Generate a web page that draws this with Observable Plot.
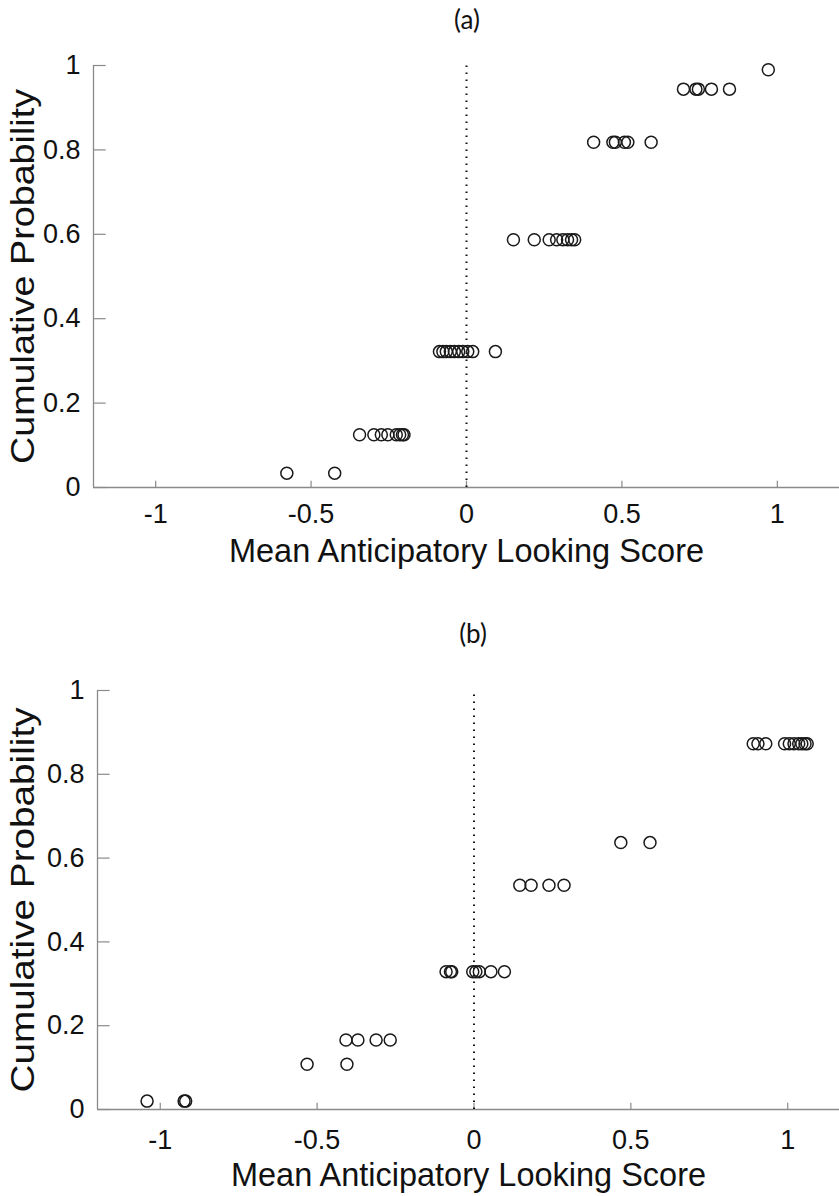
<!DOCTYPE html>
<html>
<head>
<meta charset="utf-8">
<script src="https://cdn.jsdelivr.net/npm/d3@7"></script>
<script src="https://cdn.jsdelivr.net/npm/@observablehq/plot@0.6"></script>
<style>
  html, body { margin: 0; padding: 0; background: #fff; overflow: hidden; }
  #wrap { position: relative; width: 839px; height: 1196px; }
  .ttl { position: absolute; font-family: Lato, "Open Sans", sans-serif; font-size: 26px; color: #111; transform: translate(-50%, -50%); white-space: nowrap; }
  .pan { position: absolute; left: 0; }
</style>
</head>
<body>
<div id="wrap">
  <div class="ttl" style="left:467px; top:19px;">(a)</div>
  <div class="pan" id="pa" style="top:40px;"></div>
  <div class="ttl" style="left:473px; top:633px;">(b)</div>
  <div class="pan" id="pb" style="top:660px;"></div>
</div>
<script>
// ---- Panel (a) data ----
const aScore = [
  -0.578, -0.424,
  -0.344, -0.298, -0.274, -0.253, -0.226, -0.215, -0.206, -0.201,
  -0.087, -0.076, -0.065, -0.052, -0.039, -0.025, -0.012, 0.004, 0.020, 0.093,
  0.151, 0.218, 0.266, 0.290, 0.310, 0.325, 0.338, 0.348,
  0.409, 0.471, 0.479, 0.508, 0.519, 0.594,
  0.698, 0.738, 0.746, 0.788, 0.846,
  0.971
];
const aProb = [
  0.034, 0.034,
  0.125, 0.125, 0.125, 0.125, 0.125, 0.125, 0.125, 0.125,
  0.322, 0.322, 0.322, 0.322, 0.322, 0.322, 0.322, 0.322, 0.322, 0.322,
  0.587, 0.587, 0.587, 0.587, 0.587, 0.587, 0.587, 0.587,
  0.818, 0.818, 0.818, 0.818, 0.818, 0.818,
  0.944, 0.944, 0.944, 0.944, 0.944,
  0.990
];
// ---- Panel (b) data ----
const bScore = [
  -1.042, -0.924, -0.919,
  -0.532, -0.405,
  -0.408, -0.370, -0.312, -0.267,
  -0.089, -0.075, -0.071, -0.004, 0.006, 0.017, 0.054, 0.097,
  0.146, 0.182, 0.239, 0.287,
  0.468, 0.561,
  0.890, 0.905, 0.930, 0.990, 1.005, 1.020, 1.035, 1.045, 1.055, 1.062
];
const bProb = [
  0.020, 0.020, 0.020,
  0.108, 0.108,
  0.166, 0.166, 0.166, 0.166,
  0.329, 0.329, 0.329, 0.329, 0.329, 0.329, 0.329, 0.329,
  0.535, 0.535, 0.535, 0.535,
  0.637, 0.637,
  0.873, 0.873, 0.873, 0.873, 0.873, 0.873, 0.873, 0.873, 0.873, 0.873
];
const xTicks = [-1, -0.5, 0, 0.5, 1];
const yTicks = [0, 0.2, 0.4, 0.6, 0.8, 1];
const xLabel = "Mean Anticipatory Looking Score";
const yLabel = "Cumulative Probability";

const FONT = '"Liberation Sans", Arial, Helvetica, sans-serif';
const AXIS = "#8a8a8a";

function panel(scores, probs, opts) {
  const data = scores.map((s, i) => ({score: s, prob: probs[i]}));
  const [x0, x1] = opts.xDomain;
  const tx = (x1 - x0) * 0.0085;
  const svg = Plot.plot({
    width: 839,
    height: opts.height,
    marginLeft: opts.marginLeft,
    marginRight: 0,
    marginTop: opts.marginTop,
    marginBottom: opts.marginBottom,
    style: {fontFamily: FONT, background: "white", overflow: "visible"},
    x: {domain: opts.xDomain, ticks: xTicks},
    y: {domain: [0, 1], ticks: yTicks},
    marks: [
      Plot.axisX(xTicks, {tickSize: 0, tickPadding: opts.xPad, fontSize: 27, fill: "#111", label: null,
        tickFormat: d => String(d)}),
      Plot.axisY(yTicks, {tickSize: 0, tickPadding: 13, fontSize: 27, fill: "#111", label: null,
        tickFormat: d => String(d)}),
      // axis lines
      Plot.ruleY([0], {stroke: AXIS, strokeWidth: 1.3}),
      Plot.ruleX([x0], {y1: 0, y2: 1, stroke: AXIS, strokeWidth: 1.3}),
      // inward ticks
      Plot.ruleX(xTicks, {x: d => d, y1: 0, y2: 0.015, stroke: AXIS, strokeWidth: 1.2}),
      Plot.ruleY(yTicks, {y: d => d, x1: x0, x2: x0 + tx * 2, stroke: AXIS, strokeWidth: 1.2}),
      // dotted zero line
      Plot.ruleX([0], {y1: 0, y2: 1, stroke: "#111", strokeWidth: 2, strokeDasharray: "1.6,5.4"}),
      // data points
      Plot.dot(data, {x: "score", y: "prob", r: 6, stroke: "#1a1a1a", strokeWidth: 1.5, fill: "none"}),
      // axis labels
      Plot.text([xLabel], {frameAnchor: "bottom", dy: opts.xLabelDy, fontSize: 32.5, fill: "#111", lineAnchor: "middle", textAnchor: "middle"}),
      Plot.text([yLabel], {frameAnchor: "left", dx: -(opts.marginLeft - 23), rotate: -90, fontSize: 33, fill: "#111", lineAnchor: "middle", textAnchor: "middle"})
    ]
  });
  // stretch y label along its baseline to match the reference's length
  d3.select(svg).selectAll("text").filter(function() { return this.textContent === yLabel; })
    .attr("textLength", opts.yLabelLen).attr("lengthAdjust", "spacingAndGlyphs");
  return svg;
}

document.getElementById("pa").appendChild(panel(aScore, aProb, {
  xDomain: [-1.2, 1.2], height: 540, marginLeft: 93, marginTop: 25, marginBottom: 93,
  xPad: 16, xLabelDy: 64, yLabelLen: 375
}));
document.getElementById("pb").appendChild(panel(bScore, bProb, {
  xDomain: [-1.2, 1.165], height: 536, marginLeft: 97, marginTop: 30, marginBottom: 87,
  xPad: 20, xLabelDy: 66, yLabelLen: 385
}));
</script>
</body>
</html>
